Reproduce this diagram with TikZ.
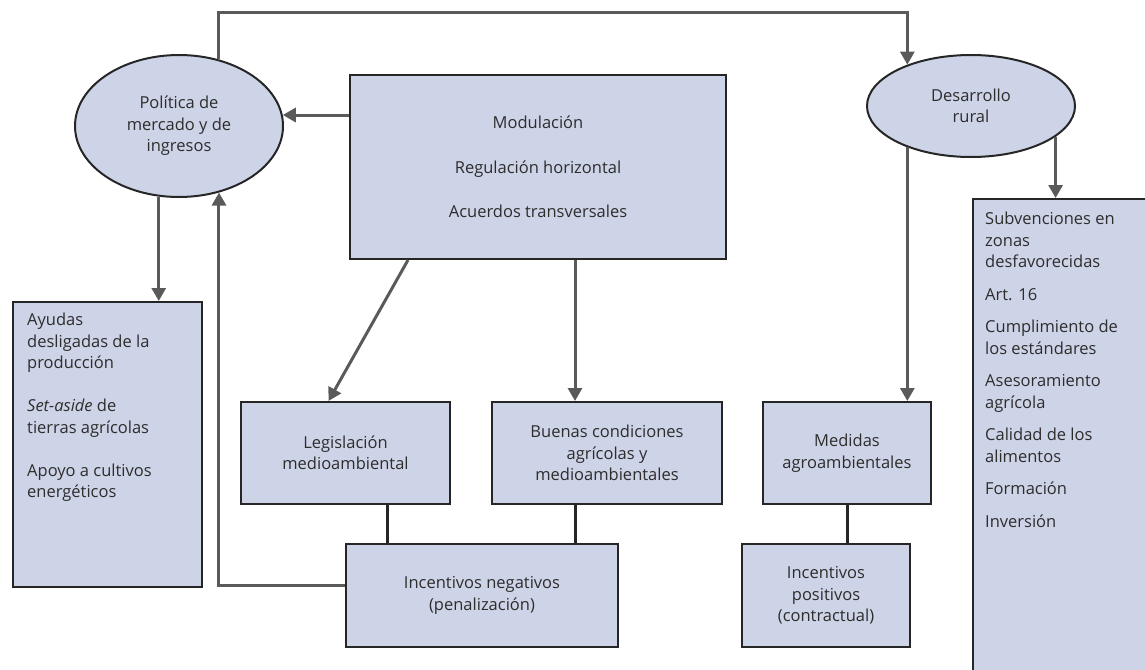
\documentclass[tikz,border=0pt]{standalone}
\usepackage{fontspec}
\setmainfont{Open Sans}
\usetikzlibrary{shapes.geometric,arrows.meta}
\definecolor{boxfill}{RGB}{206,212,231}
\definecolor{arrgray}{RGB}{90,90,90}
\definecolor{txtgray}{RGB}{45,45,45}
\tikzset{
  box/.style={draw=black!85, line width=2pt, fill=boxfill, text=txtgray, align=center, inner sep=0pt},
  ell/.style={box, ellipse},
  boxtxt/.style={anchor=north west, align=left, text=txtgray, inner sep=0pt},
  arr/.style={-{Triangle[width=14pt,length=13pt]}, line width=3pt, draw=arrgray},
  link/.style={line width=3pt, draw=black!85},
}
\newcommand{\txtsize}{\fontsize{16.5}{21.5}\selectfont}

\begin{document}
\begin{tikzpicture}[x=1pt, y=-1pt, font=\txtsize]
\useasboundingbox (0,0) rectangle (1145,669);
\clip (0,0) rectangle (1145,669);

% upper level
\node[ell, minimum width=208pt, minimum height=142pt] (pol) at (179,126) {Política de\\mercado y de\\ingresos};
\node[ell, minimum width=208pt, minimum height=102pt] (dev) at (971,106) {Desarrollo\\rural};
\node[box, minimum width=376pt, minimum height=184pt] (mod) at (538,167) {Modulación\\[23pt]Regulación horizontal\\[23pt]Acuerdos transversales};
\coordinate (top) at (0,13);

% side lists
\node[box, anchor=north west, minimum width=189pt, minimum height=285pt] (ayu) at (12,301) {};
\node[boxtxt] (ayu-txt) at ([shift={(15pt,-12pt)}]ayu.north west)
  {Ayudas\\desligadas de la\\producción\\[21.5pt]\textit{Set-aside} de\\tierras agrícolas\\[21.5pt]Apoyo a cultivos\\energéticos};
\node[box, anchor=north west, minimum width=200pt, minimum height=500pt] (sub) at (972,198) {};
\node[boxtxt] (sub-txt) at ([shift={(13pt,-14pt)}]sub.north west)
  {Subvenciones en\\zonas\\desfavorecidas\\[11pt]Art. 16\\[11pt]Cumplimiento de\\los estándares\\[11pt]Asesoramiento\\agrícola\\[11pt]Calidad de los\\alimentos\\[11pt]Formación\\[11pt]Inversión};

% lower level
\node[box, minimum width=209pt, minimum height=102pt] (leg) at (345.5,453) {Legislación\\medioambiental};
\node[box, minimum width=230pt, minimum height=102pt] (bue) at (607,453) {Buenas condiciones\\agrícolas y\\medioambientales};
\node[box, minimum width=168pt, minimum height=102pt] (med) at (847,453) {Medidas\\agroambientales};
\node[box, minimum width=272pt, minimum height=103pt] (neg) at (482,595.5) {Incentivos negativos\\(penalización)};
\node[box, minimum width=168pt, minimum height=103pt] (pos) at (826,595.5) {Incentivos\\positivos\\(contractual)};

% arrows
\draw[arr] (pol.59) -- (pol.59 |- top) -| (dev.147);
\draw[arr] ([yshift=52pt]mod.west) -- ([yshift=52pt]mod.west -| pol.6);
\draw[arr] (pol.254) -- (pol.254 |- ayu.north);
\draw[arr] ([yshift=10pt]neg.west) -| (pol.-59);
\draw[arr] ([xshift=-130pt]mod.south) -- ([xshift=-17pt]leg.north);
\draw[arr] ([xshift=37pt]mod.south) -- ([xshift=37pt]mod.south |- bue.north);
\draw[arr] (dev.213) -- (dev.213 |- med.north);
\draw[arr] (dev.-20) -- (dev.-20 |- sub.north);

% links
\draw[link] ([xshift=42pt]leg.south) -- ([xshift=42pt]leg.south |- neg.north);
\draw[link] ([xshift=-32pt]bue.south) -- ([xshift=-32pt]bue.south |- neg.north);
\draw[link] (med.south) -- (med.south |- pos.north);
\end{tikzpicture}
\end{document}
